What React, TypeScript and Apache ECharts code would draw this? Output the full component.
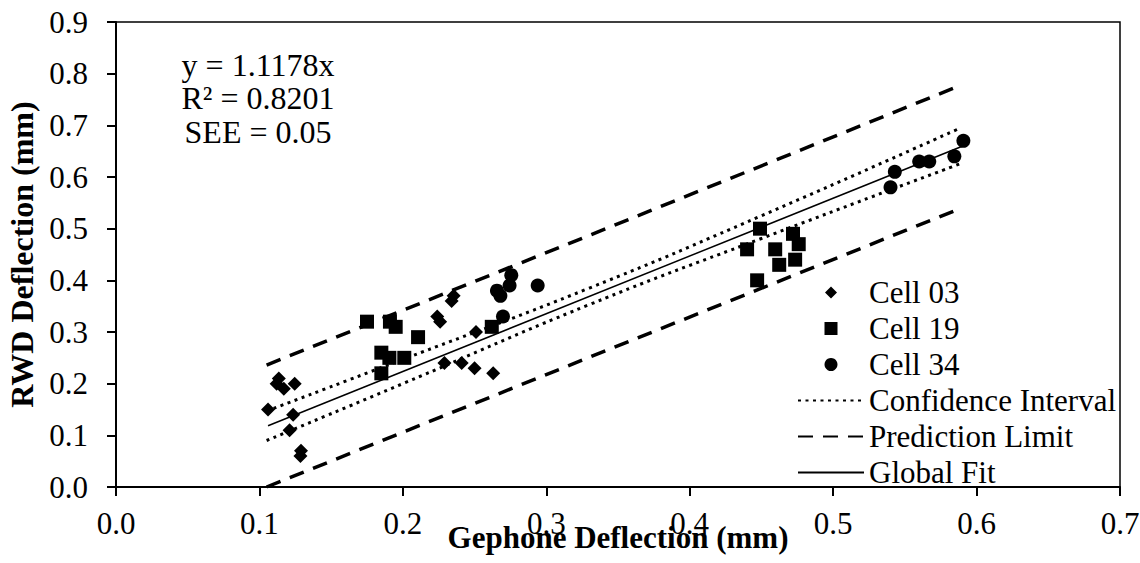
import React, { useEffect, useRef } from "react";
import * as echarts from "echarts";

const cell03: [number, number][] = [
  [0.106, 0.15], [0.1135, 0.21], [0.112, 0.2], [0.117, 0.19], [0.1246, 0.2],
  [0.1235, 0.14], [0.121, 0.11], [0.129, 0.07], [0.1286, 0.06],
  [0.2354, 0.37], [0.234, 0.36], [0.224, 0.33], [0.226, 0.32], [0.251, 0.3],
  [0.229, 0.24], [0.241, 0.24], [0.25, 0.23], [0.263, 0.22],
];
const cell19: [number, number][] = [
  [0.175, 0.32], [0.191, 0.32], [0.195, 0.31], [0.2106, 0.29], [0.185, 0.26],
  [0.1906, 0.25], [0.201, 0.25], [0.185, 0.22], [0.262, 0.31],
  [0.449, 0.5], [0.472, 0.49], [0.476, 0.47], [0.44, 0.46], [0.4596, 0.46],
  [0.4735, 0.44], [0.4624, 0.43], [0.447, 0.4],
];
const cell34: [number, number][] = [
  [0.2756, 0.41], [0.2744, 0.39], [0.2656, 0.38], [0.268, 0.37], [0.294, 0.39],
  [0.2698, 0.33],
  [0.5908, 0.67], [0.5845, 0.64], [0.567, 0.63], [0.56, 0.63], [0.543, 0.61],
  [0.54, 0.58],
];
const ciUpper: [number, number][] = [
  [0.105, 0.147], [0.2, 0.247], [0.33, 0.385], [0.45, 0.525], [0.588, 0.694],
];
const ciLower: [number, number][] = [
  [0.105, 0.09], [0.2, 0.2], [0.33, 0.353], [0.45, 0.481], [0.588, 0.625],
];
const plUpper: [number, number][] = [[0.105, 0.236], [0.33, 0.487], [0.585, 0.773]];
const plLower: [number, number][] = [[0.105, 0.0], [0.33, 0.251], [0.585, 0.535]];
const globalFit: [number, number][] = [[0.106, 0.1185], [0.59, 0.6595]];
const equationLines = ["y = 1.1178x", "R\u00B2 = 0.8201", "SEE = 0.05"];

const FONT = "Liberation Serif";

// legend icons padded to the full icon box so that the marker stays centred and unstretched
const ICON_DIAMOND = "path://M0,6.5L0.01,6.5L0,6.5Z M33,0.5L39,6.5L33,12.5L27,6.5Z M66,6.5L65.99,6.5L66,6.5Z M0,0L0.01,0Z M0,13L0.01,13Z";
const ICON_RECT = "path://M0,6.5L0.01,6.5L0,6.5Z M26.5,0H39.5V13H26.5Z M66,6.5L65.99,6.5L66,6.5Z";

export default function App() {
  const ref = useRef<HTMLDivElement>(null);
  useEffect(() => {
    if (!ref.current) return;
    const chart = echarts.init(ref.current, undefined, { renderer: "svg" });
    const black = "#000";
    const clear = "rgba(0,0,0,0)";
    const dotted = { color: black, width: 3, type: [3, 4.5] as any };
    const dashed = { color: black, width: 3.5, type: [15, 10] as any };
    const serif31 = { fontFamily: FONT, fontSize: 31, color: black, fontWeight: "normal" };
    const lineSeries = (name: string, data: [number, number][], lineStyle: any, smooth = false) => ({
      name, type: "line", data, smooth, showSymbol: false, symbol: "none",
      itemStyle: { color: clear }, lineStyle, z: 2,
    });
    const scatter = (name: string, data: [number, number][], symbol: string, size: number) => ({
      name, type: "scatter", data, symbol, symbolSize: size,
      itemStyle: { color: black, opacity: 1 }, z: 3,
    });
    const option: any = {
      animation: false,
      backgroundColor: "#fff",
      textStyle: { fontFamily: FONT },
      grid: {
        left: 116, right: 20, top: 22, bottom: 76,
        outerBoundsMode: "none",
        show: true, borderColor: black, borderWidth: 1.5,
        backgroundColor: "transparent",
      },
      xAxis: {
        type: "value", min: 0, max: 0.7, interval: 0.1,
        name: "Gephone Deflection (mm)", nameLocation: "middle", nameGap: 35, nameMoveOverlap: false,
        nameTextStyle: { fontFamily: FONT, fontSize: 31, fontWeight: "bold", color: black },
        axisLine: { show: true, onZero: false, lineStyle: { color: black, width: 2 } },
        axisTick: { show: true, inside: false, length: 9, lineStyle: { color: black, width: 2 } },
        axisLabel: { fontFamily: FONT, fontSize: 31, color: black, margin: 21, formatter: (v: number) => v.toFixed(1) },
        splitLine: { show: false },
      },
      yAxis: {
        type: "value", min: 0, max: 0.9, interval: 0.1,
        name: "RWD Deflection (mm)", nameLocation: "middle", nameGap: 78, nameMoveOverlap: false,
        nameTextStyle: { fontFamily: FONT, fontSize: 32, fontWeight: "bold", color: black },
        axisLine: { show: true, onZero: false, lineStyle: { color: black, width: 2 } },
        axisTick: { show: true, inside: false, length: 9, lineStyle: { color: black, width: 2 } },
        axisLabel: { fontFamily: FONT, fontSize: 31, color: black, margin: 28, formatter: (v: number) => v.toFixed(1) },
        splitLine: { show: false },
      },
      legend: {
        orient: "vertical", left: 792, top: 272, itemWidth: 66, itemHeight: 13, itemGap: 5,
        formatter: "{t|{name}}",
        textStyle: { ...serif31, rich: { t: { ...serif31, lineHeight: 31 } } },
        data: [
          { name: "Cell 03", icon: ICON_DIAMOND },
          { name: "Cell 19", icon: ICON_RECT },
          { name: "Cell 34", icon: "circle" },
          "Confidence Interval", "Prediction Limit", "Global Fit",
        ],
      },
      graphic: equationLines.map((t, i) => ({
        type: "text", x: 258, y: [65, 98, 132][i],
        style: { text: t, align: "center", verticalAlign: "middle", fontFamily: FONT, fontSize: 32, fill: black },
      })),
      series: [
        lineSeries("Prediction Limit", plUpper, dashed),
        lineSeries("Prediction Limit", plLower, dashed),
        lineSeries("Confidence Interval", ciUpper, dotted, true),
        lineSeries("Confidence Interval", ciLower, dotted, true),
        lineSeries("Global Fit", globalFit, { color: black, width: 1.5 }),
        scatter("Cell 03", cell03, "diamond", 14),
        scatter("Cell 19", cell19, "rect", 14),
        scatter("Cell 34", cell34, "circle", 14),
      ],
    };
    chart.setOption(option);
    return () => chart.dispose();
  }, []);
  return <div ref={ref} style={{ position: "fixed", left: 0, top: 0, width: 1140, height: 563 }} />;
}
